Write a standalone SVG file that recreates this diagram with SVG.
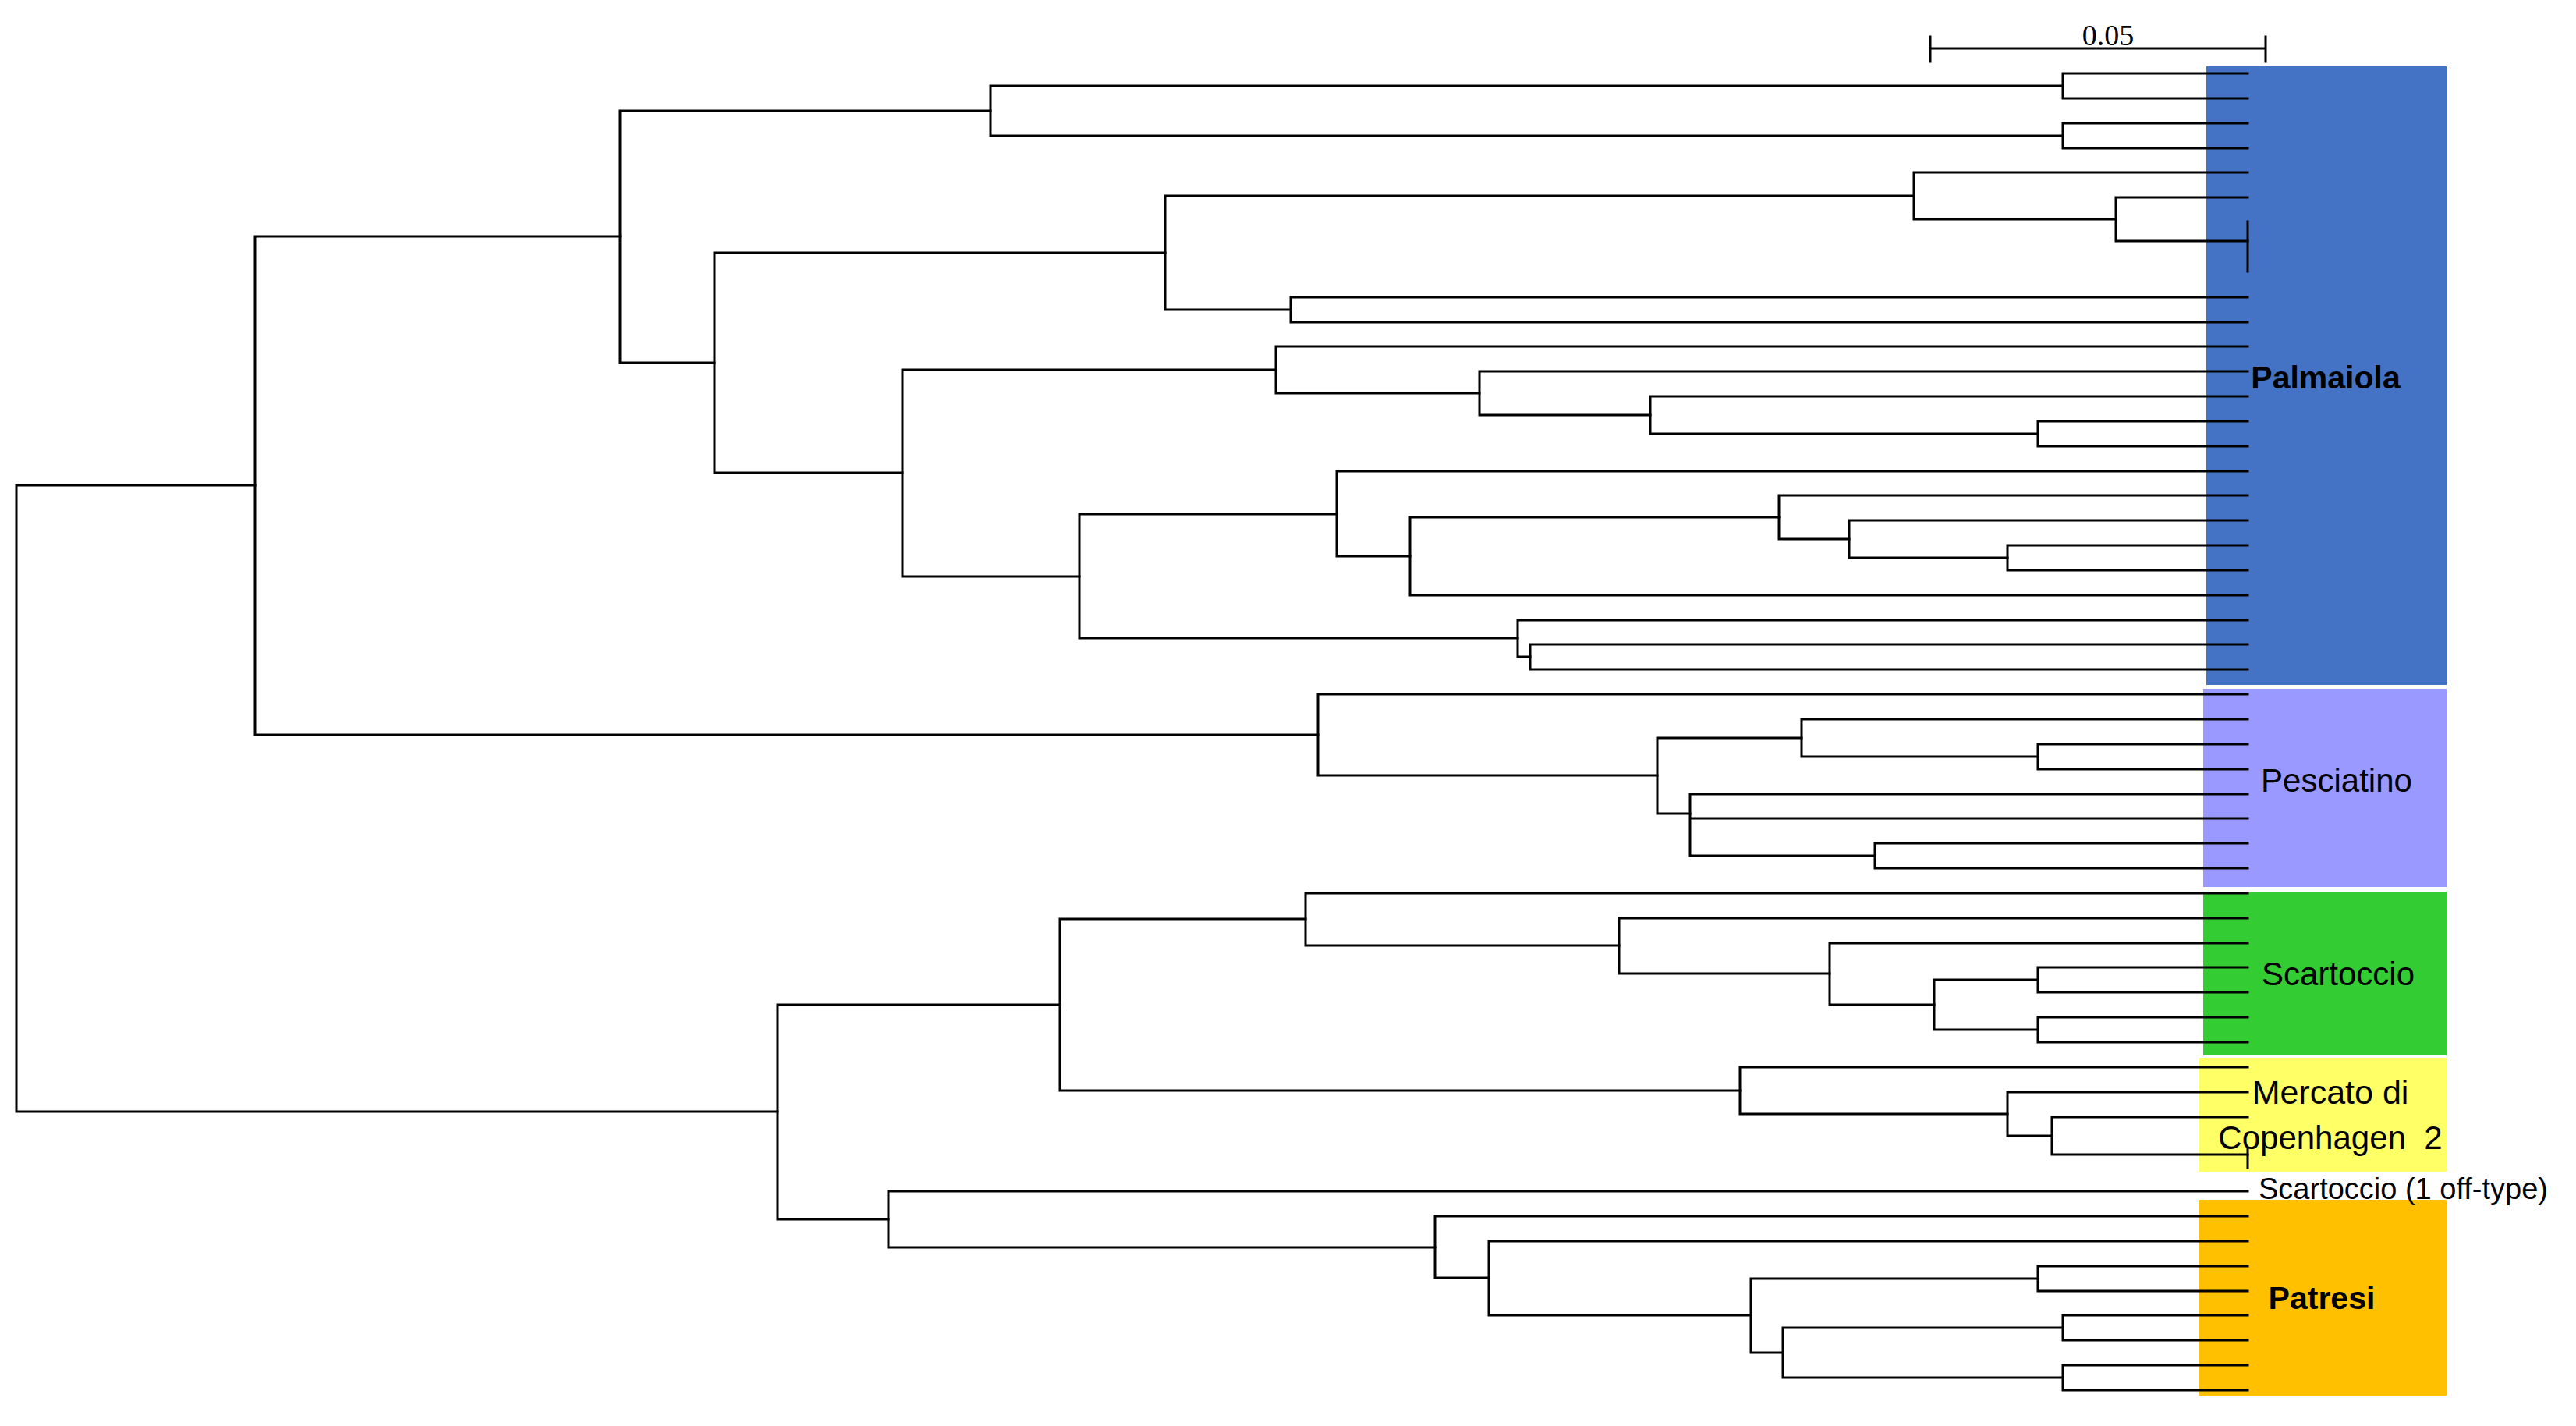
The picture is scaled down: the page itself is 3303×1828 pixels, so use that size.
<svg xmlns="http://www.w3.org/2000/svg" width="3303" height="1828" viewBox="0 0 3303 1828">
<style>
.br{fill:none;stroke:#000;stroke-width:3;stroke-linejoin:miter;stroke-linecap:square}
.lbl{font-family:"Liberation Sans",Arial,sans-serif;fill:#000}
.b{font-weight:bold}
.sc{font-family:"Liberation Serif","Times New Roman",serif;font-size:38px;fill:#000}
</style>
<rect width="3303" height="1828" fill="#fff"/>
<g id="clade-palmaiola">
<rect x="2829" y="85" width="308" height="793" fill="#4472C4"/>
<text class="lbl b" x="2982" y="498" font-size="41" text-anchor="middle">Palmaiola</text>
</g>
<g id="clade-pesciatino">
<rect x="2825" y="883" width="312" height="254" fill="#9999FF"/>
<text class="lbl" x="2996" y="1015" font-size="42" text-anchor="middle">Pesciatino</text>
</g>
<g id="clade-scartoccio">
<rect x="2825" y="1143" width="312" height="210" fill="#33CC33"/>
<text class="lbl" x="2998" y="1263" font-size="42" text-anchor="middle">Scartoccio</text>
</g>
<g id="clade-mercato">
<rect x="2820" y="1356" width="317" height="146" fill="#FFFF66"/>
</g>
<g id="clade-patresi">
<rect x="2820" y="1538" width="317" height="251" fill="#FFC000"/>
</g>
<g id="connectors">
<path class="br" d="M2882 94 H2645 V126 H2882"/>
<path class="br" d="M2882 158 H2645 V190 H2882"/>
<path class="br" d="M2645 110 H1270 V174 H2645"/>
<path class="br" d="M2882 253 H2713 V309 H2882"/>
<path class="br" d="M2882 284 V348"/>
<path class="br" d="M2882 221 H2454 V281 H2713"/>
<path class="br" d="M2882 381 H1655 V413 H2882"/>
<path class="br" d="M2454 251 H1494 V397 H1655"/>
<path class="br" d="M2882 540 H2613 V572 H2882"/>
<path class="br" d="M2882 508 H2116 V556 H2613"/>
<path class="br" d="M2882 476 H1897 V532 H2116"/>
<path class="br" d="M2882 444 H1636 V504 H1897"/>
<path class="br" d="M2882 699 H2574 V731 H2882"/>
<path class="br" d="M2882 667 H2371 V715 H2574"/>
<path class="br" d="M2882 635 H2281 V691 H2371"/>
<path class="br" d="M2281 663 H1808 V763 H2882"/>
<path class="br" d="M2882 604 H1714 V713 H1808"/>
<path class="br" d="M2882 826 H1962 V858 H2882"/>
<path class="br" d="M2882 795 H1946 V842 H1962"/>
<path class="br" d="M1714 659 H1384 V818 H1946"/>
<path class="br" d="M1636 474 H1157 V739 H1384"/>
<path class="br" d="M1494 324 H916 V606 H1157"/>
<path class="br" d="M1270 142 H795 V465 H916"/>
<path class="br" d="M2882 954 H2613 V986 H2882"/>
<path class="br" d="M2882 922 H2310 V970 H2613"/>
<path class="br" d="M2882 1081 H2404 V1113 H2882"/>
<path class="br" d="M2882 1018 H2167 V1097 H2404 M2167 1049 H2882"/>
<path class="br" d="M2310 946 H2125 V1043 H2167"/>
<path class="br" d="M2882 890 H1690 V994 H2125"/>
<path class="br" d="M795 303 H327 V942 H1690"/>
<path class="br" d="M2882 1240 H2613 V1272 H2882"/>
<path class="br" d="M2882 1304 H2613 V1336 H2882"/>
<path class="br" d="M2613 1256 H2480 V1320 H2613"/>
<path class="br" d="M2882 1209 H2346 V1288 H2480"/>
<path class="br" d="M2882 1177 H2076 V1248 H2346"/>
<path class="br" d="M2882 1145 H1674 V1212 H2076"/>
<path class="br" d="M2882 1432 H2631 V1480 H2882"/>
<path class="br" d="M2882 1473 V1497"/>
<path class="br" d="M2882 1400 H2574 V1456 H2631"/>
<path class="br" d="M2882 1368 H2231 V1428 H2574"/>
<path class="br" d="M1674 1178 H1359 V1398 H2231"/>
<path class="br" d="M2882 1686 H2645 V1718 H2882"/>
<path class="br" d="M2882 1750 H2645 V1782 H2882"/>
<path class="br" d="M2645 1702 H2286 V1766 H2645"/>
<path class="br" d="M2882 1623 H2613 V1655 H2882"/>
<path class="br" d="M2613 1639 H2245 V1734 H2286"/>
<path class="br" d="M2882 1591 H1909 V1686 H2245"/>
<path class="br" d="M2882 1559 H1840 V1638 H1909"/>
<path class="br" d="M2882 1527 H1139 V1599 H1840"/>
<path class="br" d="M1359 1288 H997 V1563 H1139"/>
<path class="br" d="M327 622 H21 V1425 H997"/>
</g>
<g id="labels-top">
<text class="lbl" x="2988" y="1415" font-size="43" text-anchor="middle">Mercato di</text>
<text class="lbl" x="2988" y="1473" font-size="42" text-anchor="middle" xml:space="preserve">Copenhagen  2</text>
<text class="lbl" x="2896" y="1537" font-size="38">Scartoccio (1 off-type)</text>
<text class="lbl b" x="2977" y="1678" font-size="41" text-anchor="middle">Patresi</text>
</g>
<g id="scale-bar">
<path class="br" d="M2475 62 H2905 M2475 47 V79 M2905 47 V79"/>
<text class="sc" x="2703" y="58" text-anchor="middle">0.05</text>
</g>
</svg>
